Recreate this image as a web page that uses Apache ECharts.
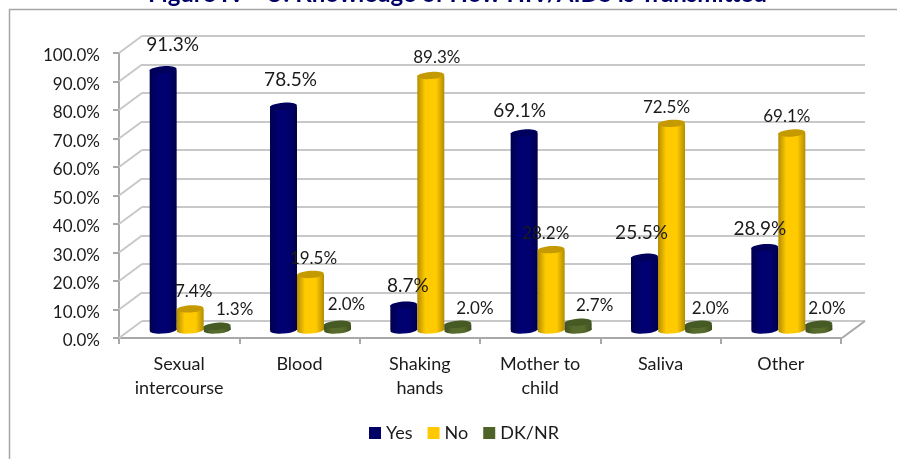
<!DOCTYPE html>
<html>
<head>
<meta charset="utf-8">
<style>
html, body { margin: 0; padding: 0; background: #fff; }
#chart { width: 897px; height: 459px; overflow: hidden; }
</style>
<script src="https://cdn.jsdelivr.net/npm/echarts@6/dist/echarts.min.js"></script>
</head>
<body>
<div id="chart"></div>
<script>
var categories = ['Sexual\nintercourse', 'Blood', 'Shaking\nhands', 'Mother to\nchild', 'Saliva', 'Other']
var yesValues = [91.3, 78.5, 8.7, 69.1, 25.5, 28.9]
var noValues = [7.4, 19.5, 89.3, 28.2, 72.5, 69.1]
var dkValues = [1.3, 2.0, 2.0, 2.7, 2.0, 2.0]
var yTicks = [0, 10, 20, 30, 40, 50, 60, 70, 80, 90, 100]

// 数据标签相对柱顶的偏移，原图里每个标签位置都不一样
var yesLabelOffsets = [[9.5, -25], [7, -26], [4, -19], [-4.5, -22], [-3, -24], [-5, -19]]
var noLabelOffsets = [[3.5, -17], [3, -16], [6, -17.5], [-5.5, -16.6], [-5, -16], [-5, -17]]
var dkLabelOffsets = [[17.5, -17], [9, -20], [17, -16], [16.5, -17], [12, -16], [8, -16]]

var fontName = 'Lato'
var textColor = '#1a1a1a'
var wallColor = '#c8c8c8'
var axisColor = '#a8a8a8'

function cylinder (cfg) {
    return function (params, api) {
        var i = api.value(0)
        var v = api.value(1)
        var top = api.coord([i, v])
        var base = api.coord([i, 0])
        var barW = api.size([1, 0])[0] * 0.2244
        var cx = top[0] + cfg.shift * barW
        var offset = cfg.offsets[i]
        var ellipse = function (y, fill) {
            return {
                type: 'ellipse',
                x: cx,
                y: y,
                rotation: 0.07,
                shape: { cx: 0, cy: 0, rx: barW / 2, ry: 3.6 },
                style: { fill: fill }
            }
        }
        var side = new echarts.graphic.LinearGradient(0, 0, 1, 0, [
            { offset: 0, color: cfg.edge },
            { offset: 0.3, color: cfg.color },
            { offset: 0.7, color: cfg.color },
            { offset: 1, color: cfg.edge }
        ])
        return {
            type: 'group',
            children: [
                ellipse(base[1], side),
                {
                    type: 'rect',
                    shape: { x: cx - barW / 2, y: top[1], width: barW, height: base[1] - top[1] },
                    style: { fill: side }
                },
                ellipse(top[1], cfg.cap),
                {
                    type: 'text',
                    z2: 100,
                    x: cx + offset[0],
                    y: top[1] + offset[1],
                    style: {
                        text: v.toFixed(1) + '%',
                        fill: textColor,
                        font: cfg.fontSize + 'px ' + fontName,
                        align: 'center',
                        verticalAlign: 'middle'
                    }
                }
            ]
        }
    }
}

function barSeries (name, values, cfg) {
    return {
        name: name,
        type: 'custom',
        xAxisIndex: 2,
        yAxisIndex: 2,
        itemStyle: { color: cfg.legend },
        encode: { x: 0, y: 1 },
        data: values.map(function (v, i) { return [i, v] }),
        renderItem: cylinder(cfg),
        silent: true
    }
}

// 背景墙到前面坐标轴之间的斜线
function depthLines (params, api) {
    var p = api.coord([api.value(0), api.value(1)])
    return {
        type: 'line',
        shape: { x1: p[0], y1: p[1], x2: p[0] - 23, y2: p[1] + 17 },
        style: { stroke: api.value(0) === 1 ? axisColor : wallColor, lineWidth: 2 }
    }
}

var chart = echarts.init(document.getElementById('chart'), null, { renderer: 'canvas' })

var option = {
    animation: false,
    backgroundColor: '#fff',
    title: {
        text: 'Figure IV - U: Knowledge of How HIV/AIDS is Transmitted',
        left: 143,
        top: -23,
        textStyle: { color: '#000066', fontFamily: fontName, fontWeight: 'bold', fontSize: 24 }
    },
    legend: {
        left: 364,
        top: 419,
        icon: 'rect',
        itemWidth: 12,
        itemHeight: 12,
        itemGap: 15,
        data: ['Yes', 'No', 'DK/NR'],
        textStyle: { color: textColor, fontFamily: fontName, fontSize: 18 }
    },
    grid: [
        { left: 142, top: 36, width: 723, height: 285 },
        { left: 119, top: 53, width: 722, height: 285 },
        { left: 130, top: 45, width: 722, height: 285 },
        // 只放y轴文字，原图文字比刻度略低
        { left: 119, top: 56, width: 722, height: 285 }
    ],
    xAxis: [
        { gridIndex: 0, type: 'value', min: 0, max: 1, show: false },
        {
            gridIndex: 1,
            type: 'category',
            data: categories,
            axisLine: { show: true, lineStyle: { color: axisColor, width: 2 } },
            axisTick: { show: true, length: 6, interval: 0, lineStyle: { color: axisColor, width: 2 } },
            axisLabel: {
                interval: 0,
                margin: 14,
                color: textColor,
                fontFamily: fontName,
                fontSize: 18,
                lineHeight: 24
            }
        },
        { gridIndex: 2, type: 'category', data: categories, show: false },
        { gridIndex: 3, type: 'category', data: categories, show: false }
    ],
    yAxis: [
        {
            gridIndex: 0,
            type: 'value',
            min: 0,
            max: 100,
            interval: 10,
            axisLine: { show: false },
            axisTick: { show: false },
            axisLabel: { show: false },
            splitLine: { lineStyle: { color: wallColor, width: 2 } }
        },
        {
            gridIndex: 1,
            type: 'value',
            min: 0,
            max: 100,
            interval: 10,
            axisLine: { show: true, lineStyle: { color: axisColor, width: 2 } },
            axisTick: { show: true, length: 6, lineStyle: { color: axisColor, width: 2 } },
            axisLabel: { show: false },
            splitLine: { show: false }
        },
        { gridIndex: 2, type: 'value', min: 0, max: 100, show: false },
        {
            gridIndex: 3,
            type: 'value',
            min: 0,
            max: 100,
            interval: 10,
            axisLine: { show: false },
            axisTick: { show: false },
            axisLabel: {
                margin: 19,
                color: textColor,
                fontFamily: fontName,
                fontSize: 17,
                formatter: function (v) { return v.toFixed(1) + '%' }
            },
            splitLine: { show: false }
        }
    ],
    series: [
        {
            type: 'custom',
            xAxisIndex: 0,
            yAxisIndex: 0,
            silent: true,
            renderItem: depthLines,
            data: yTicks.map(function (v) { return [0, v] }).concat([[1, 0]])
        },
        barSeries('Yes', yesValues, {
            shift: -1, color: '#000070', edge: '#00004a', cap: '#00005c', legend: '#000066',
            offsets: yesLabelOffsets, fontSize: 19
        }),
        barSeries('No', noValues, {
            shift: 0, color: '#ffcb00', edge: '#b48c00', cap: '#c49a00', legend: '#ffc800',
            offsets: noLabelOffsets, fontSize: 17
        }),
        barSeries('DK/NR', dkValues, {
            shift: 1, color: '#566b2c', edge: '#3f5020', cap: '#465a24', legend: '#4f6228',
            offsets: dkLabelOffsets, fontSize: 17
        })
    ],
    graphic: [{
        type: 'polyline',
        silent: true,
        shape: { points: [[9.5, 459], [9.5, 9.5], [897, 9.5]] },
        style: { stroke: '#a6a6a6', lineWidth: 1.5, fill: null }
    }]
}

chart.setOption(option)
</script>
</body>
</html>
